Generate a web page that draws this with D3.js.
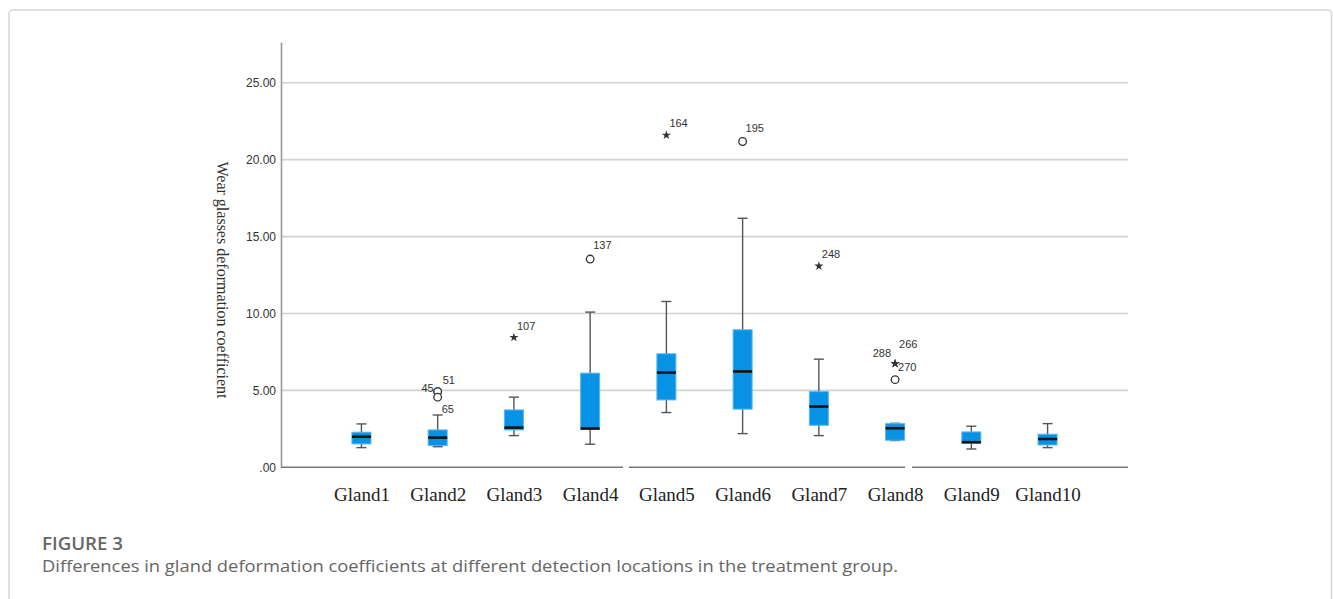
<!DOCTYPE html>
<html>
<head>
<meta charset="utf-8">
<script src="https://cdn.jsdelivr.net/npm/d3@7"></script>
<style>
  html, body { margin: 0; padding: 0; background: #fff; }
  svg { display: block; }
</style>
</head>
<body>
<svg id="chart" width="1333" height="599"></svg>
<script>
// ---------- data ----------
const categories = ["Gland1","Gland2","Gland3","Gland4","Gland5","Gland6","Gland7","Gland8","Gland9","Gland10"];
const whiskerLow  = [1.28, 1.34, 2.06, 1.50, 3.56, 2.19, 2.06, 1.74, 1.19, 1.28];
const q1          = [1.52, 1.41, 2.43, 2.48, 4.38, 3.78, 2.73, 1.76, 1.57, 1.45];
const medians     = [1.99, 1.93, 2.58, 2.52, 6.16, 6.23, 3.95, 2.54, 1.63, 1.84];
const q3          = [2.28, 2.43, 3.73, 6.12, 7.38, 8.94, 4.92, 2.84, 2.30, 2.15];
const whiskerHigh = [2.82, 3.40, 4.56, 10.09, 10.78, 16.19, 7.03, 2.86, 2.67, 2.84];

const outlierGroup = ["Gland2","Gland2","Gland2","Gland3","Gland4","Gland5","Gland6","Gland7","Gland8","Gland8","Gland8"];
const outlierValue = [4.92, 4.92, 4.56, 8.44, 13.54, 21.59, 21.18, 13.08, 6.74, 6.74, 5.70];
const outlierKind  = ["circle","circle","circle","star","circle","star","circle","star","star","star","circle"];
const outlierId    = ["45","51","65","107","137","164","195","248","266","270","288"];

const yTicks = [0, 5, 10, 15, 20, 25];
const yTickLabels = [".00","5.00","10.00","15.00","20.00","25.00"];
const yTitle = "Wear glasses deformation coefficient";
const figureLabel = "FIGURE 3";
const captionText = "Differences in gland deformation coefficients at different detection locations in the treatment group.";

// label placement (style only): [dx, dy, anchor]
const labelOffset = {
  "45": [-4, 0, "end"], "51": [5, -8, "start"], "65": [4, 16, "start"],
  "107": [3, -7, "start"], "137": [3, -10, "start"], "164": [3, -8, "start"],
  "195": [3, -10, "start"], "248": [3, -8, "start"], "266": [4, -16, "start"],
  "270": [3, 7, "start"], "288": [-4, -23, "end"]
};

// ---------- layout ----------
const svg = d3.select("#chart");
const x0 = 281, x1 = 1128, yBottom = 467.3, yTop = 42;

svg.append("rect")
  .attr("x", 9).attr("y", 10).attr("width", 1322.5).attr("height", 640)
  .attr("rx", 4).attr("fill", "#fff").attr("stroke", "#d6d6d6").attr("stroke-width", 1.5);

const x = d3.scalePoint().domain(categories).range([x0, x1]).padding(1.055);
const y = d3.scaleLinear().domain([0, 27.65]).range([yBottom, yTop]);

// gridlines
svg.append("g").selectAll("line").data(yTicks.filter(d => d > 0)).join("line")
  .attr("x1", x0).attr("x2", x1)
  .attr("y1", d => y(d)).attr("y2", d => y(d))
  .attr("stroke", "#d2d2d2").attr("stroke-width", 1.6);

// y axis
const yAxis = d3.axisLeft(y).tickValues(yTicks).tickSize(0).tickPadding(5)
  .tickFormat((d, i) => yTickLabels[i]);
const gy = svg.append("g").attr("transform", `translate(${x0},0)`).call(yAxis);
gy.select(".domain").attr("stroke", "#999").attr("stroke-width", 1.6);
gy.selectAll("text").attr("font-family", "'Liberation Sans', Arial, sans-serif")
  .attr("font-size", 12).attr("fill", "#333");

// x axis baseline with small gaps
const segs = [[x0, 623], [629, 905], [912, x1]];
svg.append("g").selectAll("line").data(segs).join("line")
  .attr("x1", d => d[0]).attr("x2", d => d[1])
  .attr("y1", yBottom).attr("y2", yBottom)
  .attr("stroke", "#777").attr("stroke-width", 1.6);

// x labels
const xAxis = d3.axisBottom(x).tickSize(0).tickPadding(20);
const gx = svg.append("g").attr("transform", `translate(0,${yBottom})`).call(xAxis);
gx.select(".domain").remove();
gx.selectAll("text").attr("font-family", "'Liberation Serif', 'Times New Roman', serif")
  .attr("font-size", 19).attr("fill", "#222");

// y title
svg.append("text")
  .attr("transform", `translate(217,280) rotate(90)`)
  .attr("text-anchor", "middle")
  .attr("font-family", "'Liberation Serif', 'Times New Roman', serif")
  .attr("font-size", 16).attr("fill", "#333")
  .text(yTitle);

// boxes
const boxW = 19, capW = 10;
const boxes = categories.map((c, i) => ({c, lo: whiskerLow[i], q1: q1[i], med: medians[i], q3: q3[i], hi: whiskerHigh[i]}));
const gb = svg.append("g").selectAll("g").data(boxes).join("g");
const wStroke = "#555";
gb.append("line").attr("x1", d => x(d.c)).attr("x2", d => x(d.c))
  .attr("y1", d => y(d.hi)).attr("y2", d => y(d.lo))
  .attr("stroke", wStroke).attr("stroke-width", 1.4);
gb.append("line").attr("x1", d => x(d.c) - capW/2).attr("x2", d => x(d.c) + capW/2)
  .attr("y1", d => y(d.hi)).attr("y2", d => y(d.hi))
  .attr("stroke", wStroke).attr("stroke-width", 1.4);
gb.append("line").attr("x1", d => x(d.c) - capW/2).attr("x2", d => x(d.c) + capW/2)
  .attr("y1", d => y(d.lo)).attr("y2", d => y(d.lo))
  .attr("stroke", wStroke).attr("stroke-width", 1.4);
gb.append("rect")
  .attr("x", d => x(d.c) - boxW/2).attr("width", boxW)
  .attr("y", d => y(d.q3)).attr("height", d => y(d.q1) - y(d.q3))
  .attr("fill", "#0892e6").attr("stroke", "#5ab6ee").attr("stroke-width", 1);
gb.append("line").attr("x1", d => x(d.c) - boxW/2).attr("x2", d => x(d.c) + boxW/2)
  .attr("y1", d => y(d.med)).attr("y2", d => y(d.med))
  .attr("stroke", "#111").attr("stroke-width", 2.6);

// outliers
const outliers = outlierId.map((id, i) => ({id, g: outlierGroup[i], v: outlierValue[i], k: outlierKind[i]}));
const go = svg.append("g");
go.selectAll("circle").data(outliers.filter(d => d.k === "circle")).join("circle")
  .attr("cx", d => x(d.g)).attr("cy", d => y(d.v)).attr("r", 3.8)
  .attr("fill", "#fff").attr("stroke", "#333").attr("stroke-width", 1.3);
go.selectAll("path").data(outliers.filter(d => d.k === "star")).join("path")
  .attr("transform", d => `translate(${x(d.g)},${y(d.v)})`)
  .attr("d", d3.symbol(d3.symbolStar, 26)).attr("fill", "#333");
go.selectAll("text").data(outliers).join("text")
  .attr("x", d => x(d.g) + labelOffset[d.id][0])
  .attr("y", d => y(d.v) + labelOffset[d.id][1])
  .attr("text-anchor", d => labelOffset[d.id][2])
  .attr("font-family", "'Liberation Sans', Arial, sans-serif")
  .attr("font-size", 11).attr("fill", "#333")
  .text(d => d.id);

// caption
svg.append("text").attr("x", 42).attr("y", 550)
  .attr("font-family", "'Open Sans', Lato, sans-serif").attr("font-size", 18)
  .attr("font-weight", 600)
  .attr("fill", "#666").attr("textLength", 81).attr("lengthAdjust", "spacingAndGlyphs")
  .text(figureLabel);
svg.append("text").attr("x", 42).attr("y", 572)
  .attr("font-family", "'Open Sans', Lato, sans-serif").attr("font-size", 17)
  .attr("fill", "#666").attr("textLength", 856).attr("lengthAdjust", "spacingAndGlyphs")
  .text(captionText);
</script>
</body>
</html>
